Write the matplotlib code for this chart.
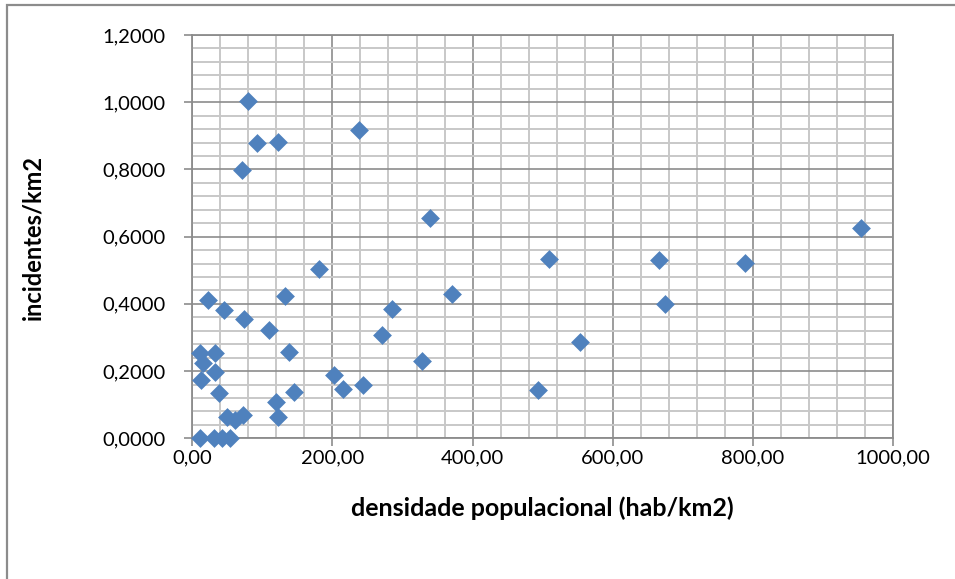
import matplotlib
matplotlib.use('Agg')
import matplotlib.pyplot as plt
from matplotlib.ticker import MultipleLocator, FuncFormatter

# densidade populacional (hab/km2) x incidentes/km2
densidade = [79.1, 92.0, 121.6, 71.4, 238.6, 338.7, 954.8, 509.6, 666.3, 789.1,
             181.4, 370.0, 674.3, 132.0, 22.9, 44.8, 285.3, 73.9, 109.1, 271.4,
             553.9, 138.6, 11.0, 32.4, 15.7, 32.4, 12.0, 327.7, 202.9, 214.8,
             244.3, 493.9, 38.1, 145.7, 119.6, 122.9, 49.0, 72.0, 61.0,
             11.0, 31.0, 42.4, 54.0]
incidentes = [1.005, 0.879, 0.881, 0.798, 0.917, 0.656, 0.627, 0.534, 0.531, 0.522,
              0.505, 0.429, 0.401, 0.422, 0.412, 0.382, 0.384, 0.355, 0.321, 0.306,
              0.286, 0.258, 0.253, 0.253, 0.225, 0.198, 0.173, 0.230, 0.187, 0.146,
              0.158, 0.144, 0.136, 0.137, 0.109, 0.063, 0.064, 0.069, 0.055,
              0.0, 0.0, 0.0, 0.0]

plt.rcParams['font.family'] = ['Lato', 'DejaVu Sans']

fig = plt.figure(figsize=(9.55, 5.79), dpi=100)
ax = fig.add_axes([192.3/955, 1-438.3/579, (893-192.3)/955, (438.3-35)/579])

# outer chart border (cropped on right and bottom)
fig.add_artist(plt.Rectangle((6.5/955, -0.1), 1.2, 1-5/579+0.1, transform=fig.transFigure,
                             fill=False, edgecolor='#8c8c8c', linewidth=1.6))

ax.scatter(densidade, incidentes, marker='D', s=92, color='#4f81bd', linewidths=0, zorder=3, clip_on=False)

ax.set_xlim(0, 1000)
ax.set_ylim(0, 1.2)
ax.xaxis.set_major_locator(MultipleLocator(200))
ax.xaxis.set_minor_locator(MultipleLocator(40))
ax.yaxis.set_major_locator(MultipleLocator(0.2))
ax.yaxis.set_minor_locator(MultipleLocator(0.04))
ax.xaxis.set_major_formatter(FuncFormatter(lambda v, p: ('%.2f' % v).replace('.', ',')))
ax.yaxis.set_major_formatter(FuncFormatter(lambda v, p: ('%.4f' % v).replace('.', ',')))

ax.grid(which='minor', color='#c8c8c8', linewidth=1.4, zorder=0)
ax.grid(which='major', color='#8c8c8c', linewidth=1.2, zorder=1)
ax.set_axisbelow(True)

for s in ax.spines.values():
    s.set_color('#8c8c8c')
    s.set_linewidth(1.3)

ax.tick_params(which='major', direction='out', length=6, width=1.2, color='#8c8c8c', labelsize=14.5)
ax.tick_params(axis='y', pad=13)
ax.tick_params(axis='x', pad=2)
ax.tick_params(which='minor', length=0)

ax.set_xlabel('densidade populacional (hab/km2)', fontsize=18, fontweight='bold', va='center')
ax.set_ylabel('incidentes/km2', fontsize=17, fontweight='bold', va='center')
ax.xaxis.set_label_coords(0.5 + (542 - 542.6) / 700.7, (438.3 - 508) / 403.3)
ax.yaxis.set_label_coords((33 - 192.3) / 700.7, (438.3 - 237) / 403.3)

fig.savefig('out.png', dpi=100)
